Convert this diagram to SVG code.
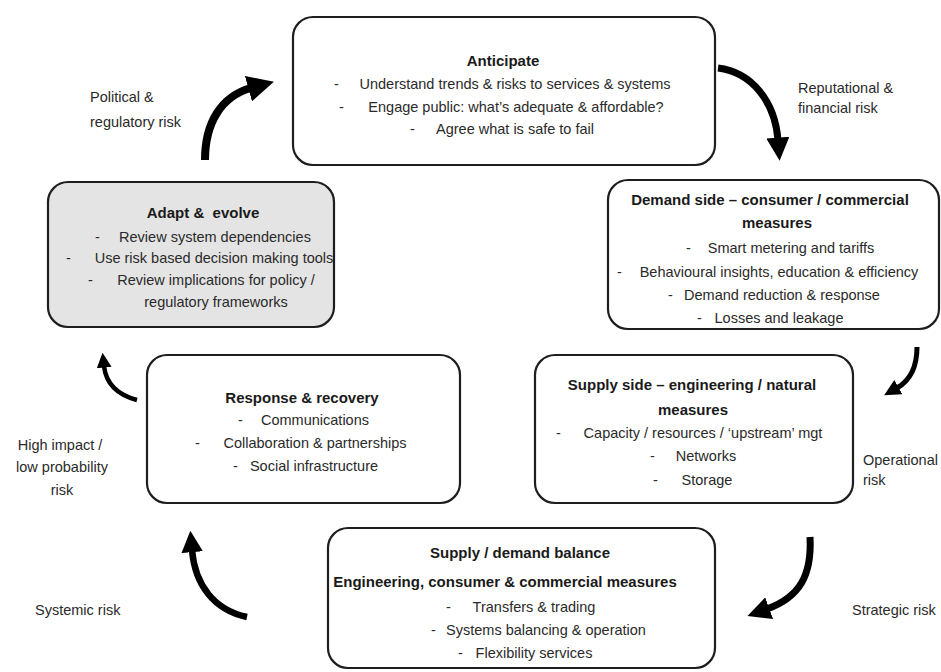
<svg xmlns="http://www.w3.org/2000/svg" width="941" height="672" viewBox="0 0 941 672">
<style>
text{font-family:"Liberation Sans","Open Sans",Arial,sans-serif;font-size:14.5px;fill:#2a2a2a}
.t{font-weight:bold;font-size:15px;text-anchor:middle;fill:#1a1a1a}
.c{text-anchor:middle}
.box{fill:#ffffff;stroke:#1e1e1e;stroke-width:2.2}
.grey{fill:#e4e4e4}
.arr{fill:none;stroke:#000;stroke-linecap:butt;marker-end:url(#ah)}
</style>
<defs>
<marker id="ah" viewBox="0 0 10 10" refX="1" refY="5" markerUnits="strokeWidth" markerWidth="3.3" markerHeight="3.3" orient="auto">
<path d="M0,0 L10,5 L0,10 z" fill="#000"/>
</marker>
</defs>
<rect width="941" height="672" fill="#ffffff"/>

<g id="connectors">
<path class="arr" stroke-width="8" d="M205,160 C205,122 222,96 251,88"/>
<path class="arr" stroke-width="7" d="M718,68 C752,72 775,102 778,140"/>
<path class="arr" stroke-width="5" d="M917,347 C917,366 911,380 897,388"/>
<path class="arr" stroke-width="7" d="M810,537 C812,575 800,597 767,609"/>
<path class="arr" stroke-width="6.5" d="M247,617 C214,610 195,585 192,550"/>
<path class="arr" stroke-width="4.5" d="M137,400 C118,395 106,384 104,366"/>
</g>

<g id="anticipate">
<rect class="box" x="293" y="17" width="422" height="148" rx="20"/>
<text class="t" x="503" y="66">Anticipate</text>
<text x="334" y="89">-</text><text class="c" x="515" y="89">Understand trends &amp; risks to services &amp; systems</text>
<text x="339" y="112">-</text><text class="c" x="516" y="112">Engage public: what’s adequate &amp; affordable?</text>
<text x="410" y="134">-</text><text class="c" x="515" y="134">Agree what is safe to fail</text>
</g>

<g id="demand">
<rect class="box" x="608" y="180" width="331" height="149" rx="20"/>
<text class="t" x="770" y="205">Demand side – consumer / commercial</text>
<text class="t" x="777" y="228">measures</text>
<text x="686" y="253">-</text><text class="c" x="791" y="253">Smart metering and tariffs</text>
<text x="617" y="277">-</text><text class="c" x="779" y="277">Behavioural insights, education &amp; efficiency</text>
<text x="668" y="300">-</text><text class="c" x="782" y="300">Demand reduction &amp; response</text>
<text x="697" y="323">-</text><text class="c" x="779" y="323">Losses and leakage</text>
</g>

<g id="supply">
<rect class="box" x="535" y="355" width="318" height="148" rx="20"/>
<text class="t" x="692" y="390">Supply side – engineering / natural</text>
<text class="t" x="693" y="415">measures</text>
<text x="556" y="438">-</text><text class="c" x="703" y="438">Capacity / resources / ‘upstream’ mgt</text>
<text x="650" y="461">-</text><text class="c" x="706" y="461">Networks</text>
<text x="653" y="485">-</text><text class="c" x="707" y="485">Storage</text>
</g>

<g id="balance">
<rect class="box" x="328" y="528" width="387" height="140" rx="20"/>
<text class="t" x="520" y="558">Supply / demand balance</text>
<text class="t" x="505" y="587">Engineering, consumer &amp; commercial measures</text>
<text x="446" y="612">-</text><text class="c" x="534" y="612">Transfers &amp; trading</text>
<text x="431" y="635">-</text><text class="c" x="546" y="635">Systems balancing &amp; operation</text>
<text x="458" y="658">-</text><text class="c" x="534" y="658">Flexibility services</text>
</g>

<g id="response">
<rect class="box" x="147" y="355" width="313" height="148" rx="20"/>
<text class="t" x="302" y="403">Response &amp; recovery</text>
<text x="238" y="425">-</text><text class="c" x="315" y="425">Communications</text>
<text x="195" y="448">-</text><text class="c" x="315" y="448">Collaboration &amp; partnerships</text>
<text x="233" y="471">-</text><text class="c" x="314" y="471">Social infrastructure</text>
</g>

<g id="adapt">
<rect class="box grey" x="48" y="182" width="286" height="145" rx="20"/>
<text class="t" x="203" y="218" xml:space="preserve">Adapt &amp;  evolve</text>
<text x="95" y="242">-</text><text class="c" x="215" y="242">Review system dependencies</text>
<text x="66" y="263">-</text><text class="c" x="214" y="263">Use risk based decision making tools</text>
<text x="88" y="285">-</text><text class="c" x="216" y="285">Review implications for policy /</text>
<text class="c" x="216" y="307">regulatory frameworks</text>
</g>

<g id="labels">
<text x="90" y="102">Political &amp;</text>
<text x="90" y="127">regulatory risk</text>
<text x="798" y="93">Reputational &amp;</text>
<text x="798" y="113">financial risk</text>
<text x="863" y="465">Operational</text>
<text x="863" y="485">risk</text>
<text class="c" x="60" y="450">High impact /</text>
<text class="c" x="62" y="472">low probability</text>
<text class="c" x="62" y="495">risk</text>
<text x="35" y="615">Systemic risk</text>
<text x="852" y="615">Strategic risk</text>
</g>
</svg>
